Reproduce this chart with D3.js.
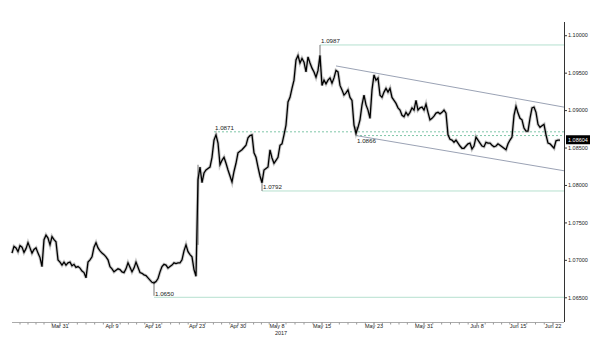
<!DOCTYPE html>
<html lang="en">
<head>
    <meta charset="UTF-8">
    <title>EUR/USD with levels</title>
    <style>
        body { margin: 0; background: #fff; }
        text { font-family: "Liberation Sans", Arial, sans-serif; fill: #222; }
    </style>
    <script src="https://cdn.jsdelivr.net/npm/d3@7"></script>
</head>
<body>
    <svg id="chart" width="600" height="349"></svg>

    <script>
        // closing prices, one per bar
        const closes = [
            1.0709,1.0718,1.0716,1.0711,1.0719,1.0717,1.0710,1.0715,1.0723,1.0716,
            1.0709,1.0714,1.0716,1.0709,1.0703,1.0691,1.0727,1.0733,1.0729,1.0720,
            1.0731,1.0727,1.0724,1.0700,1.0697,1.0693,1.0697,1.0693,1.0696,1.0697,
            1.0692,1.0694,1.0690,1.0691,1.0689,1.0685,1.0683,1.0676,1.0697,1.0700,
            1.0704,1.0717,1.0723,1.0716,1.0712,1.0709,1.0707,1.0704,1.0700,1.0691,
            1.0688,1.0684,1.0686,1.0688,1.0687,1.0684,1.0683,1.0688,1.0696,1.0690,
            1.0684,1.0689,1.0697,1.0690,1.0683,1.0682,1.0680,1.0679,1.0676,1.0673,
            1.0670,1.0669,1.0671,1.0675,1.0684,1.0691,1.0694,1.0693,1.0689,1.0691,
            1.0693,1.0696,1.0695,1.0696,1.0696,1.0700,1.0712,1.0720,1.0711,1.0707,
            1.0704,1.0687,1.0678,1.0807,1.0824,1.0803,1.0816,1.0820,1.0822,1.0824,
            1.0837,1.0860,1.0867,1.0856,1.0827,1.0833,1.0837,1.0829,1.0820,1.0812,
            1.0804,1.0818,1.0829,1.0843,1.0845,1.0847,1.0850,1.0853,1.0863,1.0866,
            1.0867,1.0843,1.0837,1.0824,1.0812,1.0803,1.0820,1.0822,1.0824,1.0847,
            1.0836,1.0829,1.0833,1.0837,1.0853,1.0855,1.0867,1.0880,1.0911,1.0917,
            1.0929,1.0940,1.0967,1.0973,1.0963,1.0969,1.0964,1.0951,1.0971,1.0963,
            1.0956,1.0951,1.0944,1.0953,1.0973,1.0933,1.0940,1.0935,1.0940,1.0943,
            1.0936,1.0943,1.0953,1.0951,1.0933,1.0927,1.0920,1.0923,1.0927,1.0917,
            1.0913,1.0880,1.0869,1.0877,1.0887,1.0907,1.0920,1.0907,1.0900,1.0889,
            1.0927,1.0947,1.0940,1.0943,1.0920,1.0917,1.0924,1.0929,1.0924,1.0929,
            1.0917,1.0913,1.0909,1.0903,1.0900,1.0893,1.0891,1.0897,1.0893,1.0897,
            1.0903,1.0900,1.0913,1.0900,1.0903,1.0904,1.0900,1.0908,1.0897,1.0887,
            1.0889,1.0892,1.0896,1.0897,1.0895,1.0897,1.0900,1.0896,1.0867,1.0861,
            1.0860,1.0857,1.0860,1.0856,1.0852,1.0849,1.0849,1.0852,1.0855,1.0856,
            1.0848,1.0852,1.0864,1.0860,1.0856,1.0852,1.0851,1.0857,1.0856,1.0856,
            1.0853,1.0851,1.0852,1.0855,1.0853,1.0851,1.0849,1.0847,1.0855,1.0860,
            1.0864,1.0893,1.0905,1.0896,1.0889,1.0887,1.0876,1.0872,1.0872,1.0889,
            1.0903,1.0904,1.0897,1.0881,1.0877,1.0879,1.0881,1.0867,1.0856,1.0855,
            1.0852,1.0849,1.0859,1.0860,1.0860
        ];

        // bars with long wicks: [bar, low, high]
        const wicks = [[71, 1.0652, 1.0672], [93, 1.0720, 1.0827], [125, 1.0792, 1.0810], [154, 1.0958, 1.0987], [172, 1.0866, 1.0878]];

        // support / resistance levels and the bar where each starts
        const levelValues = [1.0987, 1.0871, 1.0866, 1.0792, 1.0650];
        const levelStart = [154, 101, 172, 125, 71];
        const dashedLevels = [1.0871, 1.0866];

        // falling channel: [bar, price] end points
        const channelUpper = [[162, 1.0959], [276, 1.0904]];
        const channelLower = [[172, 1.0866], [276, 1.0819]];

        const lastPrice = 1.08604;

        const yTicks = [1.065, 1.070, 1.075, 1.080, 1.085, 1.090, 1.095, 1.100];
        const xTickLabels = ["Mar 31", "Apr 9", "Apr 16", "Apr 23", "Apr 30", "May 8", "May 15", "May 23", "May 31", "Jun 8", "Jun 15", "Jun 22"];
        const xTickBars = [24, 50, 70.5, 92.5, 113, 132.5, 155, 181, 206, 232.5, 253, 270.5];

        const svg = d3.select("#chart");
        const x = d3.scaleLinear().domain([0, 276]).range([12, 564]);
        const y = d3.scaleLinear().domain([1.0617, 1.1015]).range([322, 24]);

        // level lines
        levelValues.forEach((v, i) => {
            const dashed = dashedLevels.includes(v);
            svg.append("line")
                .attr("x1", x(levelStart[i])).attr("x2", x(276))
                .attr("y1", y(v)).attr("y2", y(v))
                .attr("stroke", dashed ? "#7fc7a8" : "#b5e0cf")
                .attr("stroke-width", 1)
                .attr("stroke-dasharray", dashed ? "2,2" : null);
        });

        // channel
        [channelUpper, channelLower].forEach(c => {
            svg.append("line")
                .attr("x1", x(c[0][0])).attr("y1", y(c[0][1]))
                .attr("x2", x(c[1][0])).attr("y2", y(c[1][1]))
                .attr("stroke", "#8e97ab")
                .attr("stroke-width", 0.9);
        });

        // price
        const line = d3.line().x((d, i) => x(i)).y(d => y(d));
        svg.append("path")
            .attr("d", line(closes))
            .attr("fill", "none")
            .attr("stroke", "#8a8a8a")
            .attr("stroke-opacity", 0.45)
            .attr("stroke-width", 3.2);

        svg.selectAll(".wick").data(wicks).enter().append("line")
            .attr("x1", d => x(d[0])).attr("x2", d => x(d[0]))
            .attr("y1", d => y(d[1])).attr("y2", d => y(d[2]))
            .attr("stroke", "#777").attr("stroke-width", 1);

        svg.append("path")
            .attr("d", line(closes))
            .attr("fill", "none")
            .attr("stroke", "#000")
            .attr("stroke-width", 1.3)
            .attr("stroke-linejoin", "miter");

        // level labels
        levelValues.forEach((v, i) => {
            svg.append("text")
                .attr("x", x(levelStart[i]) + 1)
                .attr("y", i === 2 ? y(v) + 7 : y(v) - 1.5)
                .style("font-size", "6.2px")
                .text(v.toFixed(4));
        });

        // y axis on the right
        const yAxis = d3.axisRight(y).tickValues(yTicks).tickSize(3).tickFormat(d3.format(".5f"));
        const gy = svg.append("g").attr("transform", `translate(${x(276)},0)`).call(yAxis);
        gy.select(".domain").attr("stroke", "#333").attr("d", `M0.5,22V322`);
        gy.selectAll(".tick line").attr("stroke", "#333");
        gy.selectAll(".tick text").attr("x", 4).style("font-size", "5.5px").style("font-family", "Liberation Sans, Arial, sans-serif").attr("fill", "#222");

        // last price box
        const py = y(lastPrice);
        svg.append("rect").attr("x", x(276) + 2).attr("y", py - 4.5).attr("width", 24).attr("height", 9).attr("fill", "#000");
        svg.append("text").attr("x", x(276) + 4).attr("y", py + 2)
            .style("font-size", "5.5px").style("fill", "#fff").text(lastPrice.toFixed(5));

        // x axis
        const gx = svg.append("g");
        gx.append("line").attr("x1", 12).attr("x2", x(276)).attr("y1", 322.5).attr("y2", 322.5)
            .attr("stroke", "#aaa");
        const minor = [];
        const allMarks = [0].concat(xTickBars, [276]);
        for (let k = 0; k < allMarks.length - 1; k++) {
            const a = allMarks[k], b = allMarks[k + 1];
            const n = Math.max(1, Math.round((b - a) / 4.3));
            for (let j = 1; j < n; j++) minor.push(a + (b - a) * j / n);
        }
        gx.selectAll(".minor").data(minor).enter().append("line")
            .attr("x1", d => x(d)).attr("x2", d => x(d))
            .attr("y1", 322.5).attr("y2", 324.5).attr("stroke", "#999");
        gx.selectAll(".major").data(xTickBars).enter().append("line")
            .attr("x1", d => x(d)).attr("x2", d => x(d))
            .attr("y1", 322.5).attr("y2", 325).attr("stroke", "#777");
        gx.selectAll(".lab").data(xTickLabels).enter().append("text")
            .attr("x", (d, i) => x(xTickBars[i]))
            .attr("y", 328)
            .attr("text-anchor", "middle")
            .style("font-size", "5.5px")
            .text(d => d);
        gx.append("text").attr("x", x(xTickBars[5]) + 4).attr("y", 335)
            .attr("text-anchor", "middle").style("font-size", "5.5px").text("2017");
    </script>
</body>
</html>
